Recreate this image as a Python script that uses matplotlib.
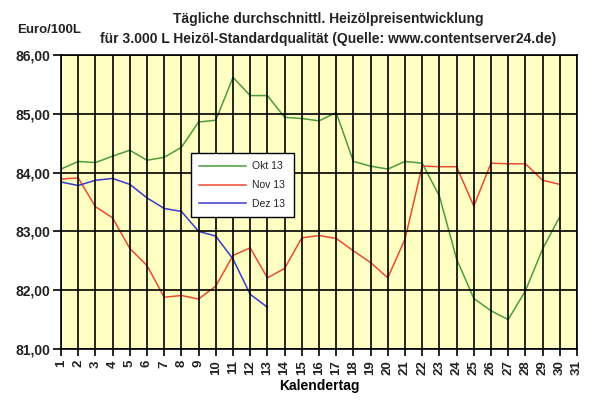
import numpy as np
import matplotlib as mpl
mpl.use('Agg')
import matplotlib.pyplot as plt
from matplotlib.ticker import FuncFormatter

plt.rcParams['font.family'] = ['Liberation Sans', 'DejaVu Sans']
plt.rcParams['font.weight'] = 'bold'
plt.rcParams['text.color'] = '#222222'
plt.rcParams['xtick.labelcolor'] = '#222222'
plt.rcParams['ytick.labelcolor'] = '#222222'

# daily values (Euro/100L)
days = list(range(1, 32))
okt13 = [84.06, 84.19, 84.17, 84.28, 84.38, 84.21, 84.26, 84.43, 84.86, 84.89,
         85.62, 85.31, 85.31, 84.94, 84.92, 84.88, 85.02, 84.19, 84.11, 84.06,
         84.19, 84.16, 83.60, 82.53, 81.86, 81.65, 81.50, 81.99, 82.70, 83.25]
nov13 = [83.89, 83.91, 83.42, 83.23, 82.71, 82.42, 81.88, 81.91, 81.85, 82.07,
         82.59, 82.72, 82.21, 82.37, 82.89, 82.93, 82.88, 82.67, 82.47, 82.21,
         82.87, 84.11, 84.10, 84.10, 83.43, 84.16, 84.15, 84.15, 83.87, 83.80]
dez13 = [83.84, 83.78, 83.87, 83.90, 83.80, 83.57, 83.39, 83.34, 83.00, 82.92,
         82.53, 81.93, 81.71]
series_labels = ['Okt 13', 'Nov 13', 'Dez 13']
yticks = [81, 82, 83, 84, 85, 86]

fig = plt.figure(figsize=(5.95, 4.0), dpi=100)
ax = fig.add_axes([61/595, 1-349/400, (577-61)/595, (349-55)/400])
ax.set_facecolor('#ffffc4')

ax.plot(days[:len(okt13)], okt13, color='#4c9c3c', lw=1.1, label=series_labels[0])
ax.plot(days[:len(nov13)], nov13, color='#ec4a30', lw=1.1, label=series_labels[1])
ax.plot(days[:len(dez13)], dez13, color='#3a3acc', lw=1.1, label=series_labels[2])

ax.set_xlim(1, 31)
ax.set_ylim(81, 86)
ax.set_xticks(days)
ax.set_xticklabels([str(d) for d in days], rotation=90, fontsize=9.5, fontweight='bold')
ax.set_yticks(yticks)
ax.yaxis.set_major_formatter(FuncFormatter(lambda v, p: ('%.2f' % v).replace('.', ',')))
for lbl in ax.get_yticklabels():
    lbl.set_fontweight('bold')
ax.tick_params(axis='y', labelsize=10, length=6, width=1.2, direction='out', pad=2)
ax.tick_params(axis='x', length=5, width=1.2, direction='out', pad=3)
ax.grid(True, color='black', lw=1.2)
ax.set_axisbelow(False)
for s in ax.spines.values():
    s.set_linewidth(1.2)

ax.set_xlabel('Kalendertag', fontsize=10, fontweight='bold', labelpad=3)

fig.text(17/595, 1-30/400, 'Euro/100L', fontsize=9.5, fontweight='bold', ha='left', va='center')
fig.text(328/595, 1-19/400, 'Tägliche durchschnittl. Heizölpreisentwicklung',
         fontsize=10, fontweight='bold', ha='center', va='center')
fig.text(328/595, 1-39/400, 'für 3.000 L Heizöl-Standardqualität (Quelle: www.contentserver24.de)',
         fontsize=10, fontweight='bold', ha='center', va='center')

leg = ax.legend(loc='upper left', bbox_to_anchor=((191-61)/516, (349-153)/294),
                borderaxespad=0, frameon=True, fancybox=False, fontsize=7.5,
                borderpad=0.8, labelspacing=0.85, handlelength=4.5, handletextpad=0.6,
                edgecolor='black', framealpha=1)
leg.get_frame().set_linewidth(1.0)
for t in leg.get_texts():
    t.set_fontweight('normal')

fig.savefig('out.png', dpi=100)
